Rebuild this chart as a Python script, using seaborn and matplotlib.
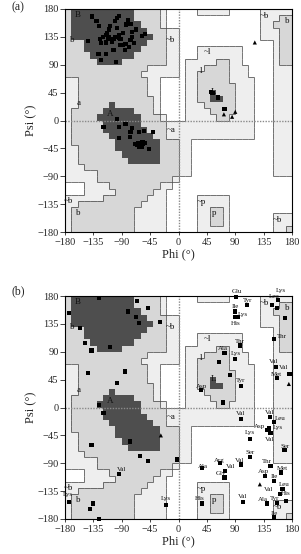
import numpy as np
import pandas as pd
import matplotlib
matplotlib.use("Agg")
import matplotlib.pyplot as plt
import seaborn as sns
from matplotlib.colors import ListedColormap
from matplotlib.collections import LineCollection

# ---------------- region map (10 deg cells, rows psi 180 -> -180, cols phi -180 -> 180)
# X = core, a = allowed, g = generously allowed, . = disallowed
REGION_ROWS = [
    "aXXXXXXXXXXaaaag.." + "...ggggg.....ggggg",
    "aXXXXXXXXXXaaaag.." + ".............gggaa",
    "aXXXXXXXXXXXaaag.." + ".............ggaaa",
    "aXXXXXXXXXXXXaaagg" + ".............gggaa",
    "aXXXXXXXXXXXXXaagg" + ".............gggaa",
    "aaaXXXXXXXXXXaaagg" + "...............gaa",
    "aaaXXXXXXXXXaaaagg" + "...ggggggg.....gaa",
    "aaaaXXXXXXXaaaaagg" + "...ggggggg.....gaa",
    "aaaaaXXXXaaaaaaagg" + ".gggggaagg.....gaa",
    "aaaaaaaaaaaaaggggg" + ".gggaaaaggg....ggg",
    "aaaaaaaaaaaagggggg" + ".ggaaaaaggg....ggg",
    "ggaaaaaaaaaaagg..." + ".ggaaaaagggg...ggg",
    "ggaaaaaaaaaaagg..." + ".ggaaaaaaggg...ggg",
    "ggaaaaaaaaaaagg..." + ".ggaaXaaaggg...ggg",
    "ggaaaaaaaaaaaag..." + ".ggaaXXaaggg...ggg",
    "ggaaaaaXaaaaaag..." + ".gggaaaaaggg...ggg",
    "gaaaaaXXXXXaaag..." + ".ggggaaaaggg...ggg",
    "gaaaaXXXXXXXaaag.." + ".gggggaagggg...ggg",
    "gaaaaaXXXXXXaaaagg" + "gggggggggggg...ggg",
    "gaaaaaXXXXXXXaaagg" + "gggggggggggg...ggg",
    "gaaaaaaXXXXXXXaagg" + "gggggggggggg...ggg",
    "gaaaaaaaXXXXXXXaaa" + "gg.............ggg",
    "ggaaaaaaXXXXXXXaaa" + "gg.............ggg",
    "ggaaaaaaaXXXXXXaaa" + "gg.............ggg",
    "ggaaaaaaaaXXXXXaaa" + "gg.............ggg",
    "gggaaaaaaaaaaaaaaa" + "gg.............ggg",
    "gggggaaaaaaaaaaaaa" + "gg.............ggg",
    "gggggaaaaaaaaaaaag" + "..................",
    "...ggggaaaaaaaagg." + "..................",
    "...gggggaaaaaagg.." + "..................",
    "ggggggaaaaaaaggg.." + "...ggggg..........",
    "ggaaaaaaaaaagggg.." + "...ggggg..........",
    "gaaaaaaaaaaggggg.." + "...ggaag..........",
    "gaaaaaaaaaaggggg.." + "...ggaag.......ggg",
    "gaaaaaaaaaaggggg.." + "...ggaag.......ggg",
    "gaaaaaaaaaaggggg.." + "...ggggg.......gga",
]
LEVEL_CODE = {".": 0, "g": 1, "a": 2, "X": 3}
REGION_COLORS = ["#ffffff", "#eeeeee", "#d7d7d7", "#4e4e4e"]

REGION_TEXT = ["B", "b", "a", "A", "~b", "~a", "~l", "l", "L", "~p", "p", "~b", "b", "~b", "b", "~b"]
REGION_TPHI = [-160, -169, -159, -109, -12, -12, 46, 36, 55, 37, 56, -174, -159, 136, 172, 157]
REGION_TPSI = [170, 130, 28, 10, 130, -15, 111, 80, 46, -131, -150, -130, -150, 168, 160, -160]

# ---------------- panel (a) residues
a_phi = [-137, -130, -126, -143, -124, -109, -97, -94, -101, -80, -76, -83, -98, -88, -74,
         -74, -94, -95, -92, -114, -115, -111, -109, -103, -101, -106, -120, -123, -115, -127,
         -115, -103, -88, -84, -78, -76, -70, -85, -99, -123, -58, -53, -110, -68, -93,
         -119, -97, -84, -95, -74, -76, -63, -55, -41, -95, -77, -69, -64, -60, -57,
         -62, -58, -56, -54, -66, -47,
         51, 54, 63, 73, 72, 85, 90, 121]
a_psi = [168, 160, 152, 128, 131, 153, 165, 169, 160, 162, 156, 155, 150, 141, 143,
         135, 138, 134, 131, 141, 138, 134, 131, 131, 135, 127, 135, 125, 126, 108,
         107, 114, 122, 123, 119, 130, 125, 114, 95, 97, 137, 139, 147, 147, 122,
         -11, 3, -5, -10, -12, -18, -18, -17, -18, -28, -27, -38, -36, -40, -35,
         -42, -43, -38, -36, -40, -46,
         46, 44, 37, 18, 10, 6, 14, 126]
a_kind = ["res"] * 70 + ["gly", "gly", "gly", "gly"]

# ---------------- panel (b) residues
b_phi = [-126, -174, -156, -148, -138, -109, -80, -66, -48, -67, -63, -29, -143, -85, -98,
         -126, -119, -138, -77, -61, -48, -28, -2, -95, -174, -135, -141, -126, -20,
         91, 108, 89, 95, 89, 158, 148, 156, 169, 151, 98, 73, 89, 64, 82,
         99, 36, 70, 99, 145, 151, 140, 144, 146, 114, 168, 114, 99, 66, 74,
         37, 73, 146, 162, 137, 151, 129, 165, 161, 140, 156, 170, 151, 37, 102,
         155, 176, 156, 175]
b_psi = [177, 153, 128, 104, 92, 97, 155, 172, 161, 146, 137, 138, 56, 58, 40,
         4, -9, -61, -55, -78, -87, -45, -84, -108, -153, -155, -164, -180, -157,
         179, 165, 155, 146, 146, 174, 166, 160, 145, 111, 100, 88, 78, 74, 52,
         35, 28, 8, -18, -15, -24, -36, -34, -41, -51, -69, -80, -92, -90, -103,
         -98, -113, -94, -105, -110, -118, -124, -132, -139, -155, -154, -151, -177, -155, -153,
         65, 54, 47, 38]
b_kind = (["res"] * 21 + ["gly"] + ["res"] * 43 + ["gly"] + ["res"] * 11 + ["gly"])

b_lab_text = ["Glu", "Tyr", "Ile", "Lys", "His", "Lys", "Leu", "Thr", "Thr", "Ala", "Lys",
              "Val", "Val", "Met", "Tyr", "Asp", "Val", "Val", "Leu", "Asp", "Lys", "Val",
              "Lys", "Ser", "Ser", "Val", "Arg", "Val", "Ala", "Gly", "Thr", "Met", "Asp",
              "Ile", "Leu", "Val", "His", "Ala", "Tyr", "Ile", "Val", "His", "Lys", "Val", "Lys"]
b_lab_phi = [92, 109, 90, 102, 90, 162, 152, 164, 98, 70, 91,
             150, 167, 155, 98, 36, 99, 145, 161, 129, 157, 145,
             113, 169, 113, 97, 65, 82, 38, 67, 140, 165, 135,
             152, 168, 143, 170, 134, 152, 152, 102, 34, -20, -90, -175]
b_lab_psi = [187, 173, 163, 150, 136, 189, 179, 115, 107, 96, 87,
             74, 64, 54, 44, 34, -10, -8, -18, -31, -33, -51,
             -40, -63, -73, -85, -85, -95, -95, -106, -87, -98, -103,
             -111, -125, -133, -139, -149, -147, -171, -144, -147, -147, -100, -141]

TICKS = [-180, -135, -90, -45, 0, 45, 90, 135, 180]

# ---------------- drawing
sns.set_style("white")
plt.rcParams["font.family"] = ["Liberation Serif", "DejaVu Serif"]

fig = plt.figure(figsize=(3.01, 5.54), dpi=100)
ax_a = fig.add_axes([65 / 301, 1 - 232 / 554, 227 / 301, 223 / 554])
ax_b = fig.add_axes([65 / 301, 1 - 519 / 554, 227 / 301, 223 / 554])

grid = np.array([[LEVEL_CODE[c] for c in row] for row in REGION_ROWS])[::-1]
edges = np.arange(-180, 181, 10)


def boundary_segments(g):
    segs = []
    n = g.shape[0]
    for j in range(n):
        for i in range(n - 1):
            p, q = g[j, i], g[j, i + 1]
            if p != q and p != 3 and q != 3:
                segs.append([(edges[i + 1], edges[j]), (edges[i + 1], edges[j + 1])])
    for j in range(n - 1):
        for i in range(n):
            p, q = g[j, i], g[j + 1, i]
            if p != q and p != 3 and q != 3:
                segs.append([(edges[i], edges[j + 1]), (edges[i + 1], edges[j + 1])])
    return segs


def draw_panel(ax, phi, psi, kind, tag, tag_y):
    ax.pcolormesh(edges, edges, grid, cmap=ListedColormap(REGION_COLORS),
                  vmin=-0.5, vmax=3.5, shading="flat", zorder=0)
    ax.add_collection(LineCollection(boundary_segments(grid), colors="#2a2a2a",
                                     linewidths=0.45, zorder=1))
    ax.axhline(0, color="#8a8a8a", lw=1.0, ls=(0, (1, 1)), zorder=2)
    ax.axvline(0, color="#8a8a8a", lw=1.0, ls=(0, (1, 1)), zorder=2)
    for t, x, y in zip(REGION_TEXT, REGION_TPHI, REGION_TPSI):
        ax.text(x, y, t, fontsize=6.5, ha="center", va="center", color="#111111", zorder=3)
    df = pd.DataFrame({"phi": phi, "psi": psi, "kind": kind})
    sns.scatterplot(data=df, x="phi", y="psi", style="kind",
                    markers={"res": "s", "gly": "^"}, color="black", s=9,
                    linewidth=0, legend=False, ax=ax, zorder=4, clip_on=False)
    ax.set_xlim(-180, 180)
    ax.set_ylim(-180, 180)
    ax.set_xticks(TICKS)
    ax.set_yticks(TICKS)
    ax.tick_params(axis="x", labelsize=7.5, length=2, width=0.6, pad=2,
                   direction="out", bottom=True)
    ax.tick_params(axis="y", labelsize=7.5, length=3.5, width=0.6, pad=1,
                   direction="out", left=True)
    ax.set_xlabel("Phi (°)", fontsize=9, labelpad=1)
    ax.set_ylabel("Psi (°)", fontsize=9, labelpad=0)
    for s in ax.spines.values():
        s.set_linewidth(0.8)
        s.set_color("black")
    fig.text(12 / 301, tag_y, tag, fontsize=8.5, ha="left", va="top")


draw_panel(ax_a, a_phi, a_psi, a_kind, "(a)", 1 - 1 / 554)
draw_panel(ax_b, b_phi, b_psi, b_kind, "(b)", 1 - 285 / 554)
for t, x, y in zip(b_lab_text, b_lab_phi, b_lab_psi):
    ax_b.text(x, y, t, fontsize=5, ha="center", va="center", color="#111111",
              zorder=5, clip_on=False)

fig.savefig("out.png", dpi=100)
